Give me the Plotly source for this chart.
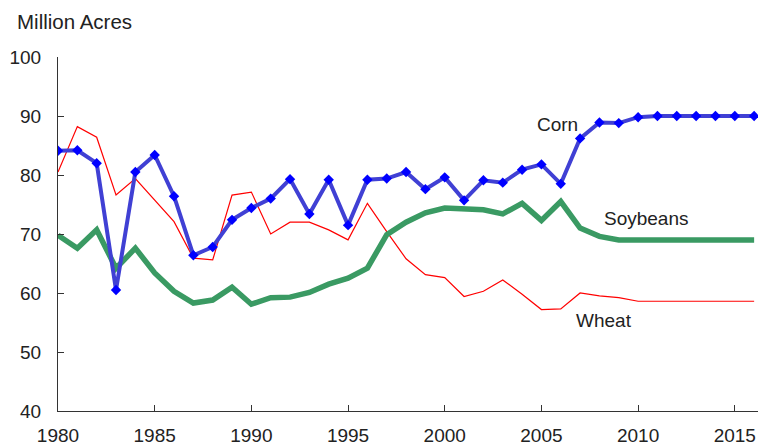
import plotly.graph_objects as go

years = list(range(1980, 2017))
corn = [84.1, 84.2, 82.0, 60.5, 80.5, 83.4, 76.4, 66.4, 67.8, 72.4,
        74.4, 76.0, 79.3, 73.4, 79.2, 71.5, 79.2, 79.4, 80.5, 77.6,
        79.6, 75.7, 79.1, 78.7, 80.9, 81.8, 78.5, 86.2, 88.9, 88.8,
        89.8, 90.0, 90.0, 90.0, 90.0, 90.0, 90.0]
soybeans = [69.8, 67.6, 70.7, 64.2, 67.6, 63.4, 60.3, 58.3, 58.8, 61.0,
            58.1, 59.2, 59.3, 60.1, 61.5, 62.5, 64.2, 69.9, 72.0, 73.6,
            74.4, 74.2, 74.1, 73.4, 75.2, 72.3, 75.5, 71.0, 69.6, 69.0,
            69.0, 69.0, 69.0, 69.0, 69.0, 69.0, 69.0]
wheat = [80.5, 88.2, 86.4, 76.6, 79.4, 75.8, 72.1, 65.9, 65.6, 76.6,
         77.1, 70.0, 72.0, 72.0, 70.7, 69.0, 75.2, 70.4, 65.8, 63.1,
         62.6, 59.4, 60.3, 62.2, 59.8, 57.2, 57.3, 60.0, 59.5, 59.2,
         58.6, 58.6, 58.6, 58.6, 58.6, 58.6, 58.6]
y_ticks = [40, 50, 60, 70, 80, 90, 100]
x_ticks = [1980, 1985, 1990, 1995, 2000, 2005, 2010, 2015]

font = "Liberation Sans, Arial, sans-serif"
txt = "#222"

fig = go.Figure()
fig.add_trace(go.Scatter(x=years, y=wheat, mode="lines", name="Wheat",
                         line=dict(color="#ff0000", width=1.2)))
fig.add_trace(go.Scatter(x=years, y=soybeans, mode="lines", name="Soybeans",
                         line=dict(color="#3a9a63", width=5.5)))
fig.add_trace(go.Scatter(x=years, y=corn, mode="lines+markers", name="Corn",
                         line=dict(color="#4040d4", width=4),
                         marker=dict(symbol="diamond", size=8, color="#0000ff")))

fig.add_annotation(x=2005.85, y=88.64, text="Corn", showarrow=False,
                   font=dict(family=font, size=19, color=txt), xanchor="center", yanchor="middle")
fig.add_annotation(x=2010.45, y=72.7, text="Soybeans", showarrow=False,
                   font=dict(family=font, size=19, color=txt), xanchor="center", yanchor="middle")
fig.add_annotation(x=2008.25, y=55.4, text="Wheat", showarrow=False,
                   font=dict(family=font, size=19, color=txt), xanchor="center", yanchor="middle")
fig.add_annotation(xref="paper", yref="paper", x=-0.0614, y=1.0989, text="Million Acres",
                   showarrow=False, xanchor="left", yanchor="middle",
                   font=dict(family=font, size=20.5, color=txt))

fig.update_layout(
    width=759, height=438,
    margin=dict(l=50, r=9, t=49, b=35),
    paper_bgcolor="white", plot_bgcolor="white",
    showlegend=False,
    font=dict(family=font, size=19, color=txt),
)
fig.update_xaxes(range=[1980, 2016.2], tickvals=x_ticks, ticks="inside", ticklen=6,
                 tickcolor="#333", showline=True, linecolor="#333", linewidth=1,
                 showgrid=False, zeroline=False, tickfont=dict(size=19),
                 ticklabelstandoff=7, automargin=False)
fig.update_yaxes(range=[40, 100], tickvals=y_ticks, ticks="inside", ticklen=6,
                 tickcolor="#333", showline=True, linecolor="#333", linewidth=1,
                 showgrid=False, zeroline=False, tickfont=dict(size=19),
                 ticklabelstandoff=12, automargin=False)

fig.write_html("out.html")
